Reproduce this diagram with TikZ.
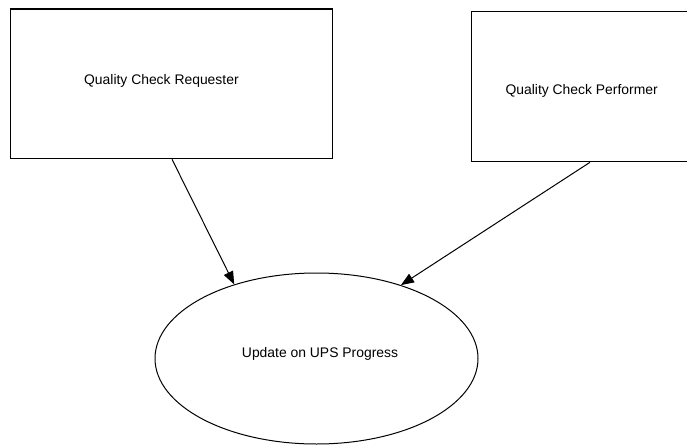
\documentclass[tikz,border=0pt]{standalone}
\usepackage{fontspec}
\setmainfont{Liberation Sans}
\usetikzlibrary{arrows.meta,shapes.geometric,calc}
\begin{document}
\begin{tikzpicture}[x=1pt,y=-1pt,
  box/.style={draw=black,line width=1.3pt,rectangle,inner sep=0pt,anchor=north west},
  oval/.style={draw=black,line width=1pt,ellipse,inner sep=0pt},
  lbl/.style={font=\fontsize{13.9}{16}\selectfont},
  conn/.style={draw=black,line width=1pt,-{Triangle[length=13pt,width=10pt]}}]
\useasboundingbox (0,0) rectangle (687,446);
\fill[white] (0,0) rectangle (687,446);
\begin{scope}
\clip (0,0) rectangle (687,446);
\node[box,minimum width=322.5pt,minimum height=149.5pt,
  label={[lbl,xshift=-10pt,yshift=3pt]center:Quality Check Requester}] (req) at (9.5,8.5) {};
\node[box,minimum width=220pt,minimum height=150pt,
  label={[lbl,yshift=-4pt]center:Quality Check Performer}] (perf) at (471,11) {};
\node[oval,minimum width=323pt,minimum height=171pt,
  label={[lbl,xshift=3.5pt,yshift=5pt]center:Update on UPS Progress}] (ups) at (316.5,358.5) {};
\coordinate (a1) at ($(req.south west)+(162.5,0)$);
\coordinate (a2) at ($(perf.south west)+(119,0)$);
\draw[conn] (a1) -- (ups.138);
\draw[conn] (a2) -- (ups.41);
\end{scope}
\end{tikzpicture}
\end{document}
